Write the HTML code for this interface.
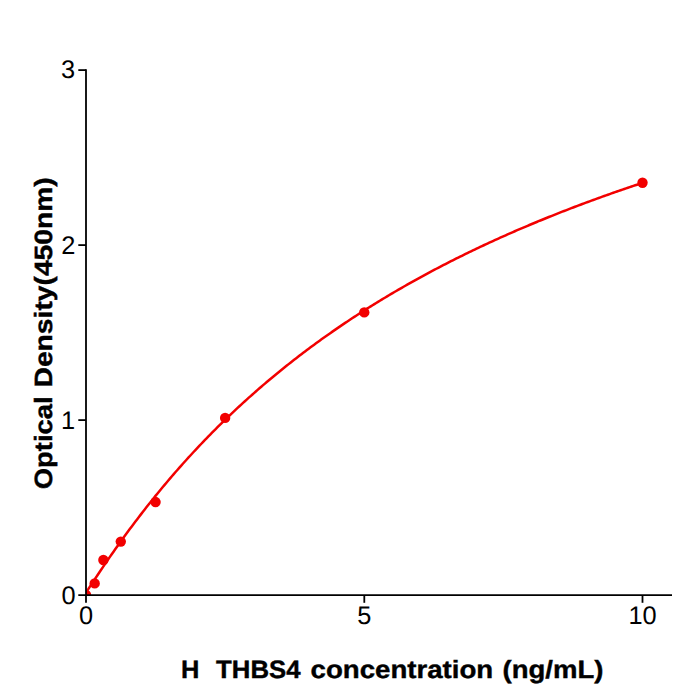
<!DOCTYPE html>
<html><head><meta charset="utf-8"><style>
html,body{margin:0;padding:0;background:#fff;}
svg{display:block;}
text{font-family:"Liberation Sans",sans-serif;fill:#000;text-rendering:geometricPrecision;}
</style></head><body>
<svg width="700" height="700" viewBox="0 0 700 700">
<rect width="700" height="700" fill="#fff"/>
<defs><clipPath id="ax"><rect x="86" y="70" width="586" height="525"/></clipPath></defs>
<g clip-path="url(#ax)">
<polyline points="86.00,592.43 86.29,592.03 86.57,591.62 86.86,591.20 87.14,590.77 87.43,590.35 87.71,589.92 88.00,589.50 88.28,589.07 88.57,588.64 88.85,588.21 89.14,587.78 89.42,587.35 89.71,586.92 90.00,586.49 90.28,586.06 90.57,585.63 90.85,585.20 91.14,584.76 91.42,584.33 91.71,583.90 91.99,583.47 92.28,583.04 92.56,582.61 92.85,582.18 93.13,581.75 93.42,581.32 93.71,580.89 93.99,580.45 94.28,580.02 94.56,579.59 94.85,579.16 95.13,578.73 95.42,578.31 95.70,577.88 95.99,577.45 96.27,577.02 96.56,576.59 96.84,576.16 97.13,575.73 98.95,573.00 100.78,570.29 102.60,567.58 104.43,564.89 106.25,562.22 108.07,559.56 109.90,556.91 111.72,554.28 113.55,551.67 115.37,549.07 117.19,546.49 119.02,543.92 120.84,541.37 122.67,538.84 124.49,536.32 126.31,533.82 128.14,531.33 129.96,528.86 131.79,526.41 133.61,523.97 135.43,521.54 137.26,519.14 139.08,516.75 140.91,514.37 142.73,512.01 144.55,509.66 146.38,507.33 148.20,505.02 150.03,502.72 151.85,500.44 153.67,498.17 155.50,495.91 157.32,493.67 159.15,491.44 160.97,489.23 162.79,487.03 164.62,484.85 166.44,482.68 168.27,480.53 170.09,478.39 171.91,476.26 173.74,474.14 175.56,472.04 177.39,469.96 179.21,467.88 181.03,465.82 182.86,463.78 184.68,461.74 186.51,459.72 188.33,457.71 190.15,455.72 191.98,453.73 193.80,451.76 195.62,449.80 197.45,447.86 199.27,445.92 201.10,444.00 202.92,442.09 204.74,440.19 206.57,438.31 208.39,436.43 210.22,434.57 212.04,432.72 213.86,430.88 215.69,429.05 217.51,427.23 219.34,425.42 221.16,423.62 222.98,421.84 224.81,420.07 226.63,418.30 228.46,416.55 230.28,414.81 232.10,413.07 233.93,411.35 235.75,409.64 237.58,407.94 239.40,406.25 241.22,404.57 243.05,402.90 244.87,401.23 246.70,399.58 248.52,397.94 250.34,396.31 252.17,394.69 253.99,393.07 255.82,391.47 257.64,389.87 259.46,388.29 261.29,386.71 263.11,385.14 264.94,383.59 266.76,382.04 268.58,380.50 270.41,378.96 272.23,377.44 274.06,375.93 275.88,374.42 277.70,372.92 279.53,371.43 281.35,369.95 283.18,368.48 285.00,367.02 286.82,365.56 288.65,364.11 290.47,362.67 292.30,361.24 294.12,359.82 295.94,358.40 297.77,356.99 299.59,355.59 301.42,354.20 303.24,352.81 305.06,351.44 306.89,350.07 308.71,348.70 310.54,347.35 312.36,346.00 314.18,344.66 316.01,343.32 317.83,342.00 319.66,340.68 321.48,339.36 323.30,338.06 325.13,336.76 326.95,335.47 328.78,334.18 330.60,332.90 332.42,331.63 334.25,330.37 336.07,329.11 337.90,327.86 339.72,326.61 341.54,325.37 343.37,324.14 345.19,322.91 347.02,321.69 348.84,320.48 350.66,319.27 352.49,318.07 354.31,316.88 356.14,315.69 357.96,314.50 359.78,313.33 361.61,312.16 363.43,310.99 365.26,309.83 367.08,308.68 368.90,307.53 370.73,306.39 372.55,305.25 374.37,304.12 376.20,303.00 378.02,301.88 379.85,300.76 381.67,299.65 383.49,298.55 385.32,297.45 387.14,296.36 388.97,295.27 390.79,294.19 392.61,293.11 394.44,292.04 396.26,290.98 398.09,289.92 399.91,288.86 401.73,287.81 403.56,286.76 405.38,285.72 407.21,284.69 409.03,283.66 410.85,282.63 412.68,281.61 414.50,280.59 416.33,279.58 418.15,278.58 419.97,277.57 421.80,276.58 423.62,275.58 425.45,274.60 427.27,273.61 429.09,272.63 430.92,271.66 432.74,270.69 434.57,269.72 436.39,268.76 438.21,267.81 440.04,266.86 441.86,265.91 443.69,264.96 445.51,264.03 447.33,263.09 449.16,262.16 450.98,261.23 452.81,260.31 454.63,259.39 456.45,258.48 458.28,257.57 460.10,256.66 461.93,255.76 463.75,254.86 465.57,253.97 467.40,253.08 469.22,252.20 471.05,251.31 472.87,250.44 474.69,249.56 476.52,248.69 478.34,247.83 480.17,246.96 481.99,246.10 483.81,245.25 485.64,244.40 487.46,243.55 489.29,242.71 491.11,241.87 492.93,241.03 494.76,240.20 496.58,239.37 498.41,238.54 500.23,237.72 502.05,236.90 503.88,236.08 505.70,235.27 507.53,234.46 509.35,233.66 511.17,232.86 513.00,232.06 514.82,231.26 516.65,230.47 518.47,229.68 520.29,228.90 522.12,228.12 523.94,227.34 525.77,226.56 527.59,225.79 529.41,225.02 531.24,224.26 533.06,223.49 534.89,222.73 536.71,221.98 538.53,221.22 540.36,220.47 542.18,219.73 544.01,218.98 545.83,218.24 547.65,217.51 549.48,216.77 551.30,216.04 553.12,215.31 554.95,214.58 556.77,213.86 558.60,213.14 560.42,212.42 562.24,211.71 564.07,211.00 565.89,210.29 567.72,209.58 569.54,208.88 571.36,208.18 573.19,207.48 575.01,206.79 576.84,206.09 578.66,205.41 580.48,204.72 582.31,204.03 584.13,203.35 585.96,202.67 587.78,202.00 589.60,201.33 591.43,200.65 593.25,199.99 595.08,199.32 596.90,198.66 598.72,198.00 600.55,197.34 602.37,196.68 604.20,196.03 606.02,195.38 607.84,194.73 609.67,194.09 611.49,193.44 613.32,192.80 615.14,192.17 616.96,191.53 618.79,190.90 620.61,190.27 622.44,189.64 624.26,189.01 626.08,188.39 627.91,187.77 629.73,187.15 631.56,186.53 633.38,185.92 635.20,185.30 637.03,184.69 638.85,184.09 640.68,183.48 642.50,182.88" fill="none" stroke="#f20000" stroke-width="2.5" stroke-linejoin="round"/>
<g fill="#f20000"><circle cx="86.00" cy="595.00" r="5.2"/>
<circle cx="94.68" cy="583.40" r="5.2"/>
<circle cx="103.39" cy="560.00" r="5.2"/>
<circle cx="120.78" cy="541.62" r="5.2"/>
<circle cx="155.56" cy="502.07" r="5.2"/>
<circle cx="225.12" cy="417.90" r="5.2"/>
<circle cx="364.25" cy="312.38" r="5.2"/>
<circle cx="642.50" cy="182.70" r="5.2"/></g>
</g>
<g stroke="#000" stroke-width="1.8" fill="none" stroke-linecap="butt">
<line x1="86" y1="69.2" x2="86" y2="602.8"/>
<line x1="78.3" y1="595.15" x2="672" y2="595.15"/>
<line x1="78.3" y1="70.1" x2="86" y2="70.1"/>
<line x1="78.3" y1="245.1" x2="86" y2="245.1"/>
<line x1="78.3" y1="420.1" x2="86" y2="420.1"/>
<line x1="364.3" y1="595" x2="364.3" y2="602.8"/>
<line x1="642.5" y1="595" x2="642.5" y2="602.8"/>
</g>
<g font-size="25.4" text-anchor="end">
<text x="75.0" y="78.1">3</text>
<text x="75.4" y="253.5">2</text>
<text x="75.05" y="428.5">1</text>
<text x="75.7" y="603.5">0</text>
</g>
<g font-size="25.4" text-anchor="middle">
<text x="86.15" y="624.0">0</text>
<text x="364.3" y="624.0">5</text>
<text x="642.5" y="624.0">10</text>
</g>
<g font-size="25" font-weight="bold" stroke="#000" stroke-width="0.4">
<text x="180.92" y="678.4" textLength="18.36" lengthAdjust="spacingAndGlyphs">H</text>
<text x="216.13" y="678.4" textLength="84.38" lengthAdjust="spacingAndGlyphs">THBS4</text>
<text x="310.54" y="678.4" textLength="182.67" lengthAdjust="spacingAndGlyphs">concentration</text>
<text x="502.58" y="678.4" textLength="100.84" lengthAdjust="spacingAndGlyphs">(ng/mL)</text>
<text transform="translate(52.0,489.22) rotate(-90)" x="0" y="0" textLength="92.75" lengthAdjust="spacingAndGlyphs">Optical</text>
<text transform="translate(52.0,387.49) rotate(-90)" x="0" y="0" textLength="210.23" lengthAdjust="spacingAndGlyphs">Density(450nm)</text>
</g>
</svg>
</body></html>
